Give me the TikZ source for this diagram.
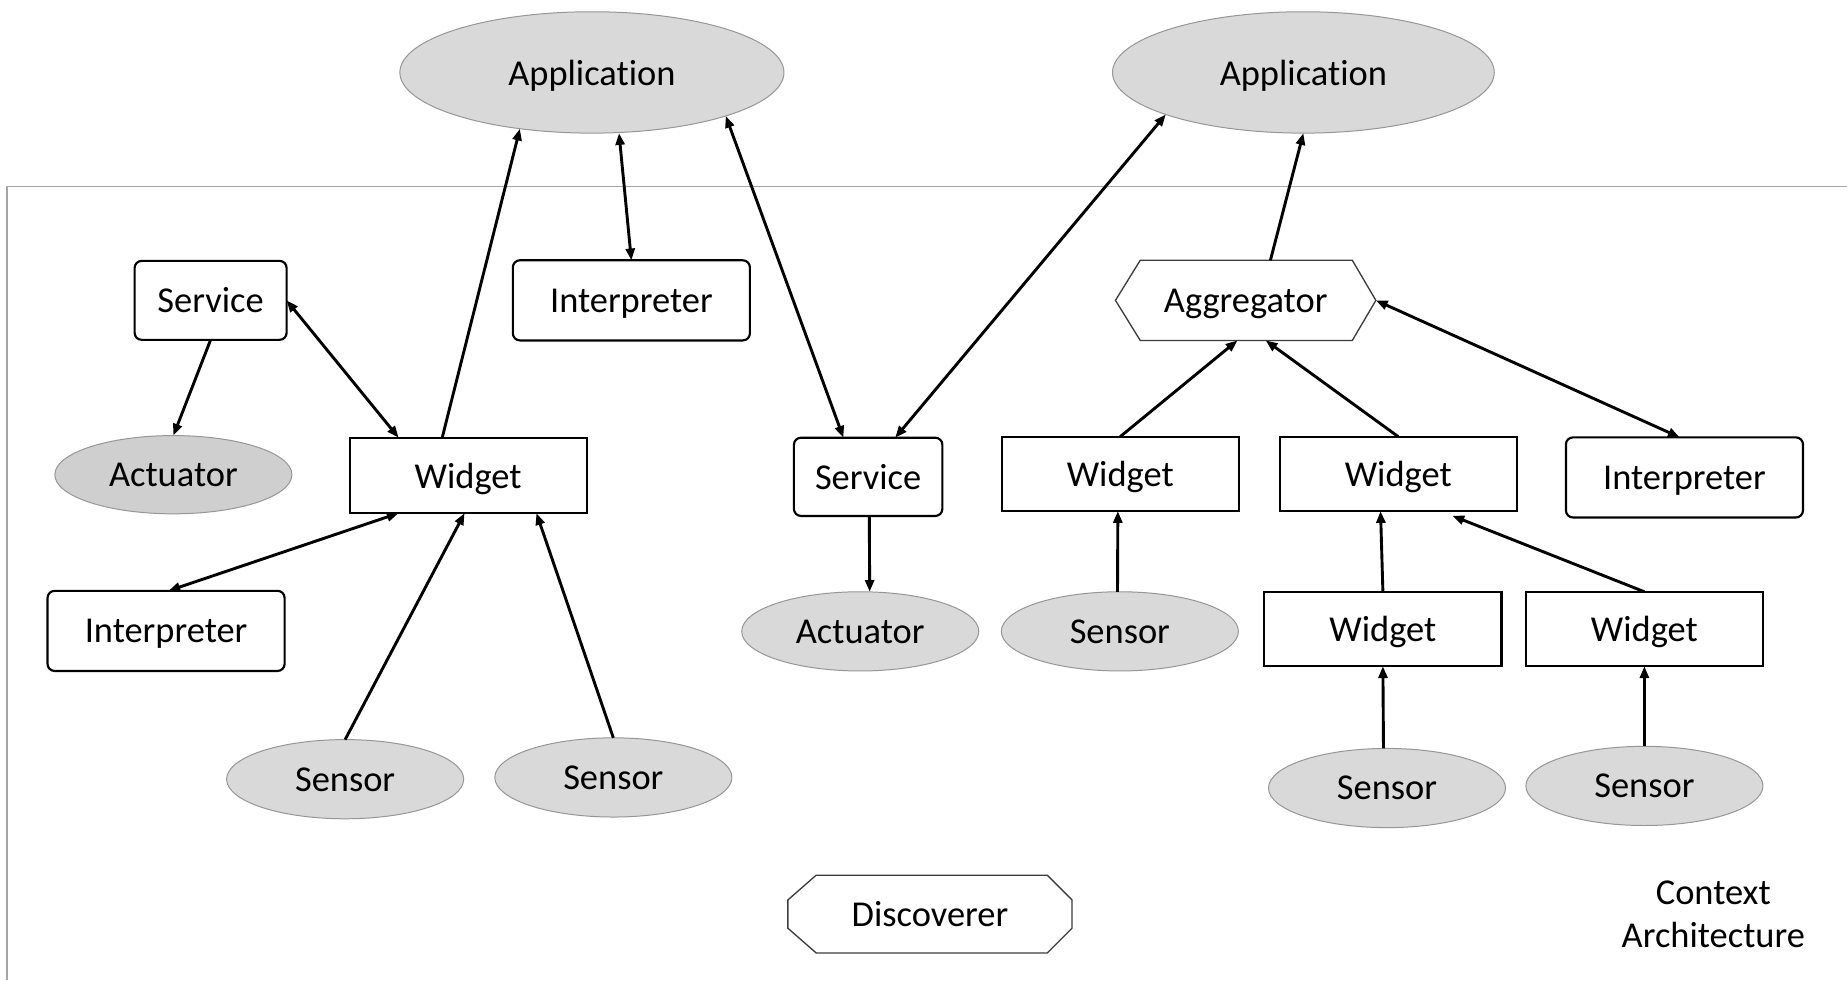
\documentclass[tikz,border=0pt]{standalone}
\usepackage{fontspec}
\setmainfont{Carlito}[Ligatures=NoCommon]
\usetikzlibrary{arrows.meta,calc,shapes.geometric}

\definecolor{ovalfill}{RGB}{217,217,217}
\definecolor{actfill}{RGB}{207,207,207}
\definecolor{ovaledge}{RGB}{150,150,150}
\definecolor{framegray}{RGB}{165,165,165}
\definecolor{polyedge}{RGB}{60,60,60}

\begin{document}
\begin{tikzpicture}[x=0.025cm,y=-0.025cm,
  every node/.style={font=\fontsize{22}{26}\selectfont, inner sep=0pt, outer sep=0pt},
  label text/.style={text depth=0pt},
  oval/.style={ellipse, label text, draw=ovaledge, line width=0.6pt, fill=ovalfill,
    minimum width=5.03cm, minimum height=1.68cm},
  box/.style={rectangle, label text, draw=black, line width=1.3pt, fill=white,
    minimum width=5.03cm, minimum height=1.58cm},
  rbox/.style={box, rounded corners=0.15cm, minimum height=1.7cm},
  polyline/.style={draw=polyedge, line width=0.8pt, line join=miter},
  tip/.style={},
  link/.style={line width=1.75pt, -{Triangle[length=0.25cm,width=0.19cm]}},
  link2/.style={line width=1.75pt,
    {Triangle[length=0.25cm,width=0.19cm]}-{Triangle[length=0.25cm,width=0.19cm]}},
]
% canvas
\fill[white] (0,0) rectangle (1568,832);
\useasboundingbox (0,0) rectangle (1568,832);

% boundary of the context architecture
\draw[draw=framegray, line width=0.7pt] (1568,158) -- (6,158) -- (6,832);

% applications
\node[oval, minimum width=8.15cm, minimum height=2.575cm] (appL) at (502.5,61.5) {Application};
\node[oval, minimum width=8.1cm, minimum height=2.575cm] (appR) at (1106.5,61.5) {Application};

% left group
\node[rbox, minimum width=3.225cm, minimum height=1.675cm] (svcL) at (178.8,255) {Service};
\node[rbox] (intT) at (536,255) {Interpreter};
\node[oval, fill=actfill, minimum height=1.66cm] (actL) at (147.2,403) {Actuator};
\node[box, minimum height=1.6cm] (wl) at (397.4,403.6) {Widget};
\node[rbox] (intL) at (141,535.6) {Interpreter};
\node[oval] (sen1) at (293,661.5) {Sensor};
\node[oval] (sen2) at (520.7,660) {Sensor};

% middle group
\node[rbox, minimum width=3.15cm, minimum height=1.66cm] (svcM) at (737,404.8) {Service};
\node[oval] (actM) at (730.3,536) {Actuator};
\node[label text, minimum width=6.03cm, minimum height=1.65cm] (disc) at (789.5,776) {Discoverer};

% right group
\node[label text, minimum width=5.525cm, minimum height=1.7cm] (agg) at (1057.5,255) {Aggregator};
\node[box] (wr1) at (951,402.3) {Widget};
\node[oval] (senR1) at (950.7,536) {Sensor};
\node[box] (wr2) at (1187,402.3) {Widget};
\node[rbox] (intR) at (1430,405.3) {Interpreter};
\node[box] (wr3) at (1174,534) {Widget};
\node[box] (wr4) at (1396,534) {Widget};
\node[oval] (senR3) at (1177.5,669) {Sensor};
\node[oval] (senR4) at (1396,667.2) {Sensor};

\node[align=center] (ctx) at (1454.5,776.5) {Context\\Architecture};

% outlines of the aggregator hexagon and the discoverer octagon
\draw[polyline] (agg.west) -- ($(agg.north west)+(21,0)$) -- ($(agg.north east)+(-20,0)$)
  -- (agg.east) -- ($(agg.south east)+(-20,0)$) -- ($(agg.south west)+(21,0)$) -- cycle;
\draw[polyline] ($(disc.west)+(0,-12)$) -- ($(disc.north west)+(24,0)$)
  -- ($(disc.north east)+(-21,0)$) -- ($(disc.east)+(0,-12)$) -- ($(disc.east)+(0,12)$)
  -- ($(disc.south east)+(-21,0)$) -- ($(disc.south west)+(24,0)$) -- ($(disc.west)+(0,12)$) -- cycle;

% connectors
\draw[link] (svcL.south) -- (actL.north);
\draw[link2] (svcL.east) -- ($(wl.north)+(-59,0)$);
\draw[link] ($(wl.north)+(-22,0)$) -- (appL.218);
\draw[link2] (intT.north) -- ($(appL.south)+(23,0)$);
\draw[link2] (appL.-18) -- ($(svcM.north)+(-21,0)$);
\draw[link2] ($(svcM.north)+(23,0)$) -- (appR.197);
\draw[link2] ($(wl.south)+(-59,0)$) -- ($(intL.north)+(2,0)$);
\draw[link] (sen1.north) -- ($(wl.south)+(-3,0)$);
\draw[link] (sen2.north) -- ($(wl.south)+(58,0)$);
\draw[link] ($(svcM.south)+(1,0)$) -- ($(actM.north)+(8,0)$);
\draw[link] ($(agg.north)+(21,0)$) -- (appR.south);
\draw[link] (wr1.north) -- ($(agg.south)+(-7,0)$);
\draw[link] (wr2.north) -- ($(agg.south)+(17,0)$);
\draw[link2] (agg.east) -- ($(intR.north)+(-4,0)$);
\draw[link] ($(senR1.north)+(-2,0)$) -- ($(wr1.south)+(-2,0)$);
\draw[link] (wr3.north) -- ($(wr2.south)+(-15,0)$);
\draw[link] (wr4.north) -- ($(wr2.south)+(46,4)$);
\draw[link] ($(senR3.north)+(-3,0)$) -- (wr3.south);
\draw[link] (senR4.north) -- (wr4.south);
\end{tikzpicture}
\end{document}
